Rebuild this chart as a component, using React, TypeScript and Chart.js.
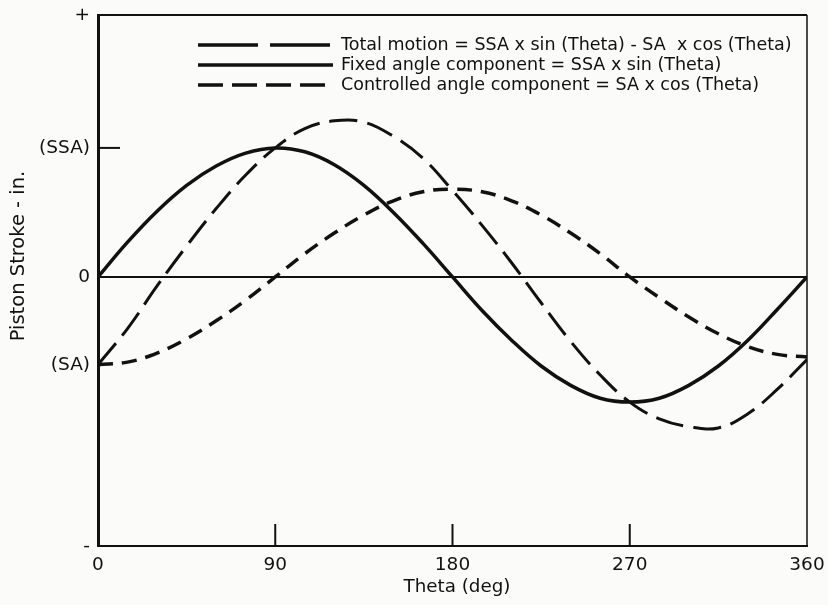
import React, { useEffect, useRef } from "react";
import { Chart, registerables } from "chart.js";
Chart.register(...registerables);

// Theta (deg) sample positions
const thetaDeg = [0, 15, 30, 45, 60, 75, 90, 105, 120, 135, 150, 165, 180, 195, 210, 225, 240, 255, 270, 285, 300, 315, 330, 345, 360];
// Values, in units of SSA
const fixedAngle = [0, 0.27, 0.51, 0.71, 0.86, 0.96, 1.0, 0.97, 0.87, 0.71, 0.5, 0.26, 0, -0.26, -0.49, -0.69, -0.84, -0.94, -0.97, -0.94, -0.84, -0.69, -0.49, -0.25, 0];
const controlledAngle = [-0.68, -0.66, -0.59, -0.48, -0.34, -0.18, 0, 0.18, 0.34, 0.48, 0.59, 0.66, 0.68, 0.66, 0.59, 0.48, 0.34, 0.18, 0, -0.16, -0.31, -0.44, -0.54, -0.6, -0.62];
const totalMotion = [-0.68, -0.4, -0.07, 0.24, 0.53, 0.79, 1.0, 1.15, 1.21, 1.2, 1.09, 0.92, 0.67, 0.4, 0.11, -0.2, -0.5, -0.76, -0.97, -1.1, -1.16, -1.17, -1.06, -0.87, -0.64];

const xTickValues = [0, 90, 180, 270, 360];
const xInnerTicks = [90, 180, 270];
const yTickValues = [2.03, 1, 0, -0.68, -2.085];
const yTickLabels = ["+", "(SSA)", "0", "(SA)", "-"];
const yInnerTicks = [1];

const legendLabels = [
  "Total motion = SSA x sin (Theta) - SA  x cos (Theta)",
  "Fixed angle component = SSA x sin (Theta)",
  "Controlled angle component = SA x cos (Theta)",
];
const legendDashes = [[60, 12], [], [25, 9]];

const xTitle = "Theta (deg)";
const yTitle = "Piston Stroke - in.";

const FONT = "'DejaVu Sans', Verdana, sans-serif";
const INK = "#111";

export default function App() {
  const ref = useRef<HTMLCanvasElement | null>(null);
  useEffect(() => {
    if (!ref.current) return;
    const toPts = (arr: number[]) => thetaDeg.map((t, i) => ({ x: t, y: arr[i] }));
    const decor = {
      id: "decor",
      beforeDraw(chart: any) {
        const c = chart.ctx;
        c.save();
        c.fillStyle = "#fbfbf9";
        c.fillRect(0, 0, chart.width, chart.height);
        c.restore();
      },
      afterDraw(chart: any) {
        const c = chart.ctx;
        const { left, right, top, bottom } = chart.chartArea;
        const xs = chart.scales.x;
        const ys = chart.scales.y;
        c.save();
        c.strokeStyle = INK;
        c.lineCap = "butt";
        // top and right frame
        c.lineWidth = 2;
        c.beginPath();
        c.moveTo(left, top);
        c.lineTo(right, top);
        c.stroke();
        c.lineWidth = 1.5;
        c.beginPath();
        c.moveTo(right, top);
        c.lineTo(right, bottom);
        c.stroke();
        // zero line
        c.lineWidth = 2;
        c.beginPath();
        c.moveTo(left, ys.getPixelForValue(0));
        c.lineTo(right, ys.getPixelForValue(0));
        c.stroke();
        // inner ticks
        yInnerTicks.forEach((v) => {
          const y = ys.getPixelForValue(v);
          c.beginPath();
          c.moveTo(left, y);
          c.lineTo(left + 22, y);
          c.stroke();
        });
        xInnerTicks.forEach((v) => {
          const x = xs.getPixelForValue(v);
          c.beginPath();
          c.moveTo(x, bottom);
          c.lineTo(x, bottom - 22);
          c.stroke();
        });
        // legend
        const lx0 = 198, lx1 = 333, ly0 = 45, dy = 20;
        legendLabels.forEach((lab, i) => {
          const y = ly0 + i * dy;
          c.lineWidth = 3.5;
          c.setLineDash(legendDashes[i]);
          c.beginPath();
          c.moveTo(lx0, y);
          c.lineTo(lx1, y);
          c.stroke();
          c.setLineDash([]);
          c.fillStyle = INK;
          c.font = `17.5px ${FONT}`;
          c.textBaseline = "middle";
          c.textAlign = "left";
          c.fillText(lab, 341, y);
        });
        // axis titles
        c.fillStyle = INK;
        c.font = `18.3px ${FONT}`;
        c.textAlign = "center";
        c.textBaseline = "middle";
        c.fillText(xTitle, 457, 587);
        c.font = `19.5px ${FONT}`;
        c.translate(19, 256);
        c.rotate(-Math.PI / 2);
        c.fillText(yTitle, 0, 0);
        c.restore();
      },
    };
    const chart = new Chart(ref.current, {
      type: "line",
      data: {
        datasets: [
          {
            label: legendLabels[0],
            data: toPts(totalMotion),
            borderColor: INK,
            borderWidth: 3,
            borderDash: [28, 10],
            pointRadius: 0,
            tension: 0.4,
            fill: false,
          },
          {
            label: legendLabels[1],
            data: toPts(fixedAngle),
            borderColor: INK,
            borderWidth: 3.5,
            pointRadius: 0,
            tension: 0.4,
            fill: false,
          },
          {
            label: legendLabels[2],
            data: toPts(controlledAngle),
            borderColor: INK,
            borderWidth: 3.5,
            borderDash: [15, 9],
            pointRadius: 0,
            tension: 0.4,
            fill: false,
          },
        ],
      },
      options: {
        animation: false,
        responsive: true,
        maintainAspectRatio: false,
        layout: { padding: { top: 15, right: 21, left: 0, bottom: 0 } },
        plugins: { legend: { display: false }, tooltip: { enabled: false } },
        scales: {
          x: {
            type: "linear",
            min: 0,
            max: 360,
            afterBuildTicks: (axis: any) => {
              axis.ticks = xTickValues.map((v) => ({ value: v }));
            },
            afterFit: (axis: any) => {
              axis.height = 59;
              axis.paddingRight = 0;
              axis.paddingLeft = 0;
            },
            grid: { display: false, drawTicks: false },
            border: { display: true, color: INK, width: 2 },
            ticks: {
              autoSkip: false,
              maxRotation: 0,
              padding: 8,
              color: INK,
              font: { size: 18.5, family: FONT },
              callback: (v: any) => String(v),
            },
          },
          y: {
            type: "linear",
            min: -2.085,
            max: 2.03,
            afterBuildTicks: (axis: any) => {
              axis.ticks = yTickValues.map((v) => ({ value: v }));
            },
            afterFit: (axis: any) => {
              axis.width = 98;
              axis.paddingTop = 0;
              axis.paddingBottom = 0;
            },
            grid: { display: false, drawTicks: false },
            border: { display: true, color: INK, width: 3 },
            ticks: {
              autoSkip: false,
              padding: 8,
              color: INK,
              font: { size: 18.5, family: FONT },
              callback: (v: any) => {
                const i = yTickValues.indexOf(Number(v));
                return i >= 0 ? yTickLabels[i] : "";
              },
            },
          },
        },
      },
      plugins: [decor],
    });
    return () => chart.destroy();
  }, []);
  return (
    <div style={{ position: "fixed", left: 0, top: 0, width: 828, height: 605 }}>
      <canvas ref={ref} />
    </div>
  );
}
